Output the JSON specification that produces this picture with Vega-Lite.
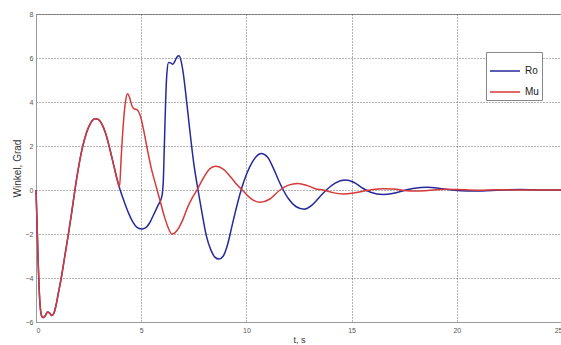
{
  "$schema": "https://vega.github.io/schema/vega-lite/v6.json",
  "width": 526,
  "height": 308,
  "autosize": {"type": "none"},
  "padding": {"left": 36, "top": 14, "right": 0, "bottom": 23},
  "background": "white",
  "config": {
    "font": "Liberation Sans",
    "view": {"stroke": "#9a9a9a", "strokeWidth": 1}
  },
  "datasets": {
    "pts": [
      {"s": "Ro", "t": 0, "y": 0}, {"s": "Ro", "t": 0.05, "y": -1.5}, {"s": "Ro", "t": 0.1, "y": -3.2}, {"s": "Ro", "t": 0.15, "y": -4.5}, {"s": "Ro", "t": 0.2, "y": -5.3}, {"s": "Ro", "t": 0.28, "y": -5.75}, {"s": "Ro", "t": 0.35, "y": -5.8}, {"s": "Ro", "t": 0.45, "y": -5.7}, {"s": "Ro", "t": 0.55, "y": -5.55}, {"s": "Ro", "t": 0.65, "y": -5.6}, {"s": "Ro", "t": 0.75, "y": -5.7}, {"s": "Ro", "t": 0.85, "y": -5.6}, {"s": "Ro", "t": 0.95, "y": -5.25}, {"s": "Ro", "t": 1.05, "y": -4.75}, {"s": "Ro", "t": 1.2, "y": -4.0}, {"s": "Ro", "t": 1.37, "y": -3.0}, {"s": "Ro", "t": 1.54, "y": -2.0}, {"s": "Ro", "t": 1.7, "y": -1.0}, {"s": "Ro", "t": 1.85, "y": 0}, {"s": "Ro", "t": 2.0, "y": 0.9}, {"s": "Ro", "t": 2.2, "y": 1.9}, {"s": "Ro", "t": 2.4, "y": 2.6}, {"s": "Ro", "t": 2.6, "y": 3.05}, {"s": "Ro", "t": 2.8, "y": 3.24}, {"s": "Ro", "t": 2.95, "y": 3.22}, {"s": "Ro", "t": 3.1, "y": 3.05}, {"s": "Ro", "t": 3.3, "y": 2.6}, {"s": "Ro", "t": 3.5, "y": 1.9}, {"s": "Ro", "t": 3.7, "y": 1.1}, {"s": "Ro", "t": 3.85, "y": 0.5},
      {"s": "Ro", "t": 4.0, "y": 0}, {"s": "Ro", "t": 4.2, "y": -0.55}, {"s": "Ro", "t": 4.4, "y": -1.05}, {"s": "Ro", "t": 4.6, "y": -1.45}, {"s": "Ro", "t": 4.8, "y": -1.7}, {"s": "Ro", "t": 5.0, "y": -1.77}, {"s": "Ro", "t": 5.2, "y": -1.72}, {"s": "Ro", "t": 5.4, "y": -1.5}, {"s": "Ro", "t": 5.6, "y": -1.1}, {"s": "Ro", "t": 5.8, "y": -0.7}, {"s": "Ro", "t": 5.98, "y": -0.3}, {"s": "Ro", "t": 6.05, "y": 0.4}, {"s": "Ro", "t": 6.1, "y": 2.0}, {"s": "Ro", "t": 6.16, "y": 4.0}, {"s": "Ro", "t": 6.22, "y": 5.3}, {"s": "Ro", "t": 6.3, "y": 5.8}, {"s": "Ro", "t": 6.4, "y": 5.78}, {"s": "Ro", "t": 6.5, "y": 5.72}, {"s": "Ro", "t": 6.6, "y": 5.85}, {"s": "Ro", "t": 6.7, "y": 6.05}, {"s": "Ro", "t": 6.8, "y": 6.1}, {"s": "Ro", "t": 6.9, "y": 5.85}, {"s": "Ro", "t": 7.0, "y": 5.3}, {"s": "Ro", "t": 7.15, "y": 4.1}, {"s": "Ro", "t": 7.3, "y": 2.8}, {"s": "Ro", "t": 7.5, "y": 1.2}, {"s": "Ro", "t": 7.7, "y": 0}, {"s": "Ro", "t": 7.9, "y": -1.1}, {"s": "Ro", "t": 8.1, "y": -2.1}, {"s": "Ro", "t": 8.3, "y": -2.7}, {"s": "Ro", "t": 8.5, "y": -3.05}, {"s": "Ro", "t": 8.7, "y": -3.14}, {"s": "Ro", "t": 8.9, "y": -3.0}, {"s": "Ro", "t": 9.1, "y": -2.5}, {"s": "Ro", "t": 9.3, "y": -1.7}, {"s": "Ro", "t": 9.5, "y": -0.9}, {"s": "Ro", "t": 9.75, "y": 0}, {"s": "Ro", "t": 10.0, "y": 0.7}, {"s": "Ro", "t": 10.3, "y": 1.3}, {"s": "Ro", "t": 10.7, "y": 1.66}, {"s": "Ro", "t": 11.0, "y": 1.5}, {"s": "Ro", "t": 11.3, "y": 0.95}, {"s": "Ro", "t": 11.55, "y": 0.4}, {"s": "Ro", "t": 11.75, "y": 0}, {"s": "Ro", "t": 12.0, "y": -0.4}, {"s": "Ro", "t": 12.35, "y": -0.75}, {"s": "Ro", "t": 12.75, "y": -0.87}, {"s": "Ro", "t": 13.1, "y": -0.7}, {"s": "Ro", "t": 13.45, "y": -0.35}, {"s": "Ro", "t": 13.8, "y": 0}, {"s": "Ro", "t": 14.2, "y": 0.3}, {"s": "Ro", "t": 14.7, "y": 0.45}, {"s": "Ro", "t": 15.1, "y": 0.35}, {"s": "Ro", "t": 15.5, "y": 0.1}, {"s": "Ro", "t": 15.9, "y": -0.1}, {"s": "Ro", "t": 16.5, "y": -0.21}, {"s": "Ro", "t": 17.0, "y": -0.15}, {"s": "Ro", "t": 17.5, "y": -0.02}, {"s": "Ro", "t": 18.0, "y": 0.08}, {"s": "Ro", "t": 18.6, "y": 0.12}, {"s": "Ro", "t": 19.2, "y": 0.07}, {"s": "Ro", "t": 19.8, "y": 0.0}, {"s": "Ro", "t": 20.5, "y": -0.04}, {"s": "Ro", "t": 21.2, "y": -0.04}, {"s": "Ro", "t": 22, "y": 0.0}, {"s": "Ro", "t": 23, "y": 0.02}, {"s": "Ro", "t": 24, "y": 0.0}, {"s": "Ro", "t": 25, "y": 0.0},
      {"s": "Mu", "t": 0, "y": 0}, {"s": "Mu", "t": 0.05, "y": -1.5}, {"s": "Mu", "t": 0.1, "y": -3.2}, {"s": "Mu", "t": 0.15, "y": -4.5}, {"s": "Mu", "t": 0.2, "y": -5.3}, {"s": "Mu", "t": 0.28, "y": -5.75}, {"s": "Mu", "t": 0.35, "y": -5.8}, {"s": "Mu", "t": 0.45, "y": -5.7}, {"s": "Mu", "t": 0.55, "y": -5.55}, {"s": "Mu", "t": 0.65, "y": -5.6}, {"s": "Mu", "t": 0.75, "y": -5.7}, {"s": "Mu", "t": 0.85, "y": -5.6}, {"s": "Mu", "t": 0.95, "y": -5.25}, {"s": "Mu", "t": 1.05, "y": -4.75}, {"s": "Mu", "t": 1.2, "y": -4.0}, {"s": "Mu", "t": 1.37, "y": -3.0}, {"s": "Mu", "t": 1.54, "y": -2.0}, {"s": "Mu", "t": 1.7, "y": -1.0}, {"s": "Mu", "t": 1.85, "y": 0}, {"s": "Mu", "t": 2.0, "y": 0.9}, {"s": "Mu", "t": 2.2, "y": 1.9}, {"s": "Mu", "t": 2.4, "y": 2.6}, {"s": "Mu", "t": 2.6, "y": 3.05}, {"s": "Mu", "t": 2.8, "y": 3.24}, {"s": "Mu", "t": 2.95, "y": 3.22}, {"s": "Mu", "t": 3.1, "y": 3.05}, {"s": "Mu", "t": 3.3, "y": 2.6}, {"s": "Mu", "t": 3.5, "y": 1.9}, {"s": "Mu", "t": 3.7, "y": 1.1}, {"s": "Mu", "t": 3.85, "y": 0.5},
      {"s": "Mu", "t": 3.97, "y": 0.15}, {"s": "Mu", "t": 4.05, "y": 1.5}, {"s": "Mu", "t": 4.15, "y": 3.0}, {"s": "Mu", "t": 4.25, "y": 4.0}, {"s": "Mu", "t": 4.35, "y": 4.38}, {"s": "Mu", "t": 4.45, "y": 4.2}, {"s": "Mu", "t": 4.55, "y": 3.85}, {"s": "Mu", "t": 4.65, "y": 3.7}, {"s": "Mu", "t": 4.8, "y": 3.65}, {"s": "Mu", "t": 4.95, "y": 3.4}, {"s": "Mu", "t": 5.1, "y": 2.8}, {"s": "Mu", "t": 5.3, "y": 1.8}, {"s": "Mu", "t": 5.5, "y": 0.9}, {"s": "Mu", "t": 5.7, "y": 0.2}, {"s": "Mu", "t": 5.9, "y": -0.5}, {"s": "Mu", "t": 6.1, "y": -1.2}, {"s": "Mu", "t": 6.3, "y": -1.75}, {"s": "Mu", "t": 6.45, "y": -2.0}, {"s": "Mu", "t": 6.6, "y": -1.95}, {"s": "Mu", "t": 6.8, "y": -1.7}, {"s": "Mu", "t": 7.0, "y": -1.3}, {"s": "Mu", "t": 7.2, "y": -0.8}, {"s": "Mu", "t": 7.4, "y": -0.4}, {"s": "Mu", "t": 7.65, "y": 0}, {"s": "Mu", "t": 7.9, "y": 0.45}, {"s": "Mu", "t": 8.2, "y": 0.9}, {"s": "Mu", "t": 8.55, "y": 1.08}, {"s": "Mu", "t": 8.9, "y": 0.95}, {"s": "Mu", "t": 9.2, "y": 0.65}, {"s": "Mu", "t": 9.5, "y": 0.3}, {"s": "Mu", "t": 9.8, "y": 0}, {"s": "Mu", "t": 10.2, "y": -0.38}, {"s": "Mu", "t": 10.65, "y": -0.56}, {"s": "Mu", "t": 11.1, "y": -0.42}, {"s": "Mu", "t": 11.6, "y": 0}, {"s": "Mu", "t": 12.0, "y": 0.22}, {"s": "Mu", "t": 12.45, "y": 0.3}, {"s": "Mu", "t": 12.9, "y": 0.2}, {"s": "Mu", "t": 13.3, "y": 0.05}, {"s": "Mu", "t": 13.65, "y": 0}, {"s": "Mu", "t": 14.1, "y": -0.12}, {"s": "Mu", "t": 14.6, "y": -0.18}, {"s": "Mu", "t": 15.1, "y": -0.14}, {"s": "Mu", "t": 15.6, "y": -0.05}, {"s": "Mu", "t": 16.0, "y": 0.02}, {"s": "Mu", "t": 16.5, "y": 0.06}, {"s": "Mu", "t": 17.0, "y": 0.05}, {"s": "Mu", "t": 17.5, "y": -0.02}, {"s": "Mu", "t": 18.0, "y": -0.05}, {"s": "Mu", "t": 18.5, "y": -0.03}, {"s": "Mu", "t": 19.0, "y": 0.01}, {"s": "Mu", "t": 19.5, "y": 0.03}, {"s": "Mu", "t": 20, "y": 0.02}, {"s": "Mu", "t": 21, "y": -0.01}, {"s": "Mu", "t": 22, "y": 0.01}, {"s": "Mu", "t": 23, "y": 0.0}, {"s": "Mu", "t": 24, "y": 0.0}, {"s": "Mu", "t": 25, "y": 0.0}
    ]
  },
  "data": {"name": "pts"},
  "encoding": {
    "x": {
      "field": "t", "type": "quantitative",
      "scale": {"domain": [0, 25], "nice": false},
      "axis": {
        "title": "t, s", "values": [0, 5, 10, 15, 20, 25],
        "grid": true, "gridDash": [1, 2], "gridColor": "#444", "gridOpacity": 0.8,
        "domain": true, "domainColor": "#9a9a9a", "ticks": false,
        "labelFontSize": 7, "labelColor": "#555", "labelPadding": 4,
        "titleFontSize": 9, "titleFontWeight": "normal", "titleColor": "#333", "titlePadding": 2
      }
    },
    "y": {
      "field": "y", "type": "quantitative",
      "scale": {"domain": [-6, 8], "nice": false},
      "axis": {
        "title": "Winkel, Grad", "values": [-6, -4, -2, 0, 2, 4, 6, 8],
        "grid": true, "gridDash": [1, 2], "gridColor": "#444", "gridOpacity": 0.8,
        "domain": true, "domainColor": "#9a9a9a", "ticks": false,
        "labelFontSize": 7, "labelColor": "#555", "labelPadding": 3,
        "titleFontSize": 10, "titleFontWeight": "normal", "titleColor": "#333", "titlePadding": 3
      }
    },
    "color": {
      "field": "s", "type": "nominal",
      "scale": {"domain": ["Ro", "Mu"], "range": ["#27299a", "#d43a3a"]},
      "legend": {
        "title": null, "orient": "none", "legendX": 450, "legendY": 38,
        "symbolType": "stroke", "symbolSize": 900, "symbolStrokeWidth": 1.5,
        "labelFontSize": 10, "labelColor": "#222", "rowPadding": -8,
        "padding": 3, "strokeColor": "#888", "fillColor": "white",
        "labelOffset": 4
      }
    }
  },
  "layer": [
    {
      "transform": [{"filter": "datum.s === 'Ro'"}],
      "mark": {"type": "line", "strokeWidth": 1.5, "interpolate": "monotone"}
    },
    {
      "transform": [{"filter": "datum.s === 'Mu'"}],
      "mark": {"type": "line", "strokeWidth": 1.5, "interpolate": "monotone"}
    }
  ]
}
